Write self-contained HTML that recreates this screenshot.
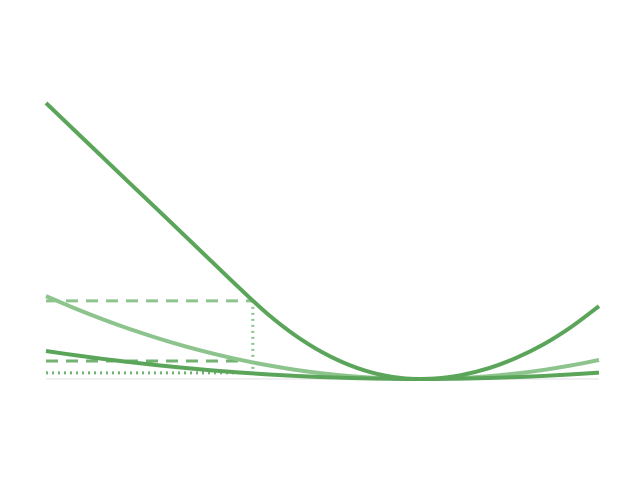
<!DOCTYPE html>
<html><head><meta charset="utf-8"><style>
html,body{margin:0;padding:0;background:#fff;width:640px;height:480px;overflow:hidden}
svg{display:block}
</style></head><body>
<svg id="chart" width="640" height="480" viewBox="0 0 640 480"></svg>
<script>
const xs=[0,0.5,1,1.5,2,2.5,3,3.5,4,4.5,5,5.5,6,6.5,7,7.5,8,8.5,9,9.5,10];
const seriesMain=[1.0,0.904,0.808,0.712,0.617,0.521,0.425,0.329,0.237,0.159,0.0964,0.0494,0.018,0.002,0.0014,0.0138,0.0387,0.0763,0.126,0.189,0.264];
const seriesLight=[0.3006,0.2577,0.2183,0.1820,0.1491,0.1194,0.0931,0.0699,0.0502,0.0336,0.0204,0.0105,0.0038,0.0005,0.0004,0.0036,0.0101,0.0198,0.0329,0.0493,0.0689];
const seriesLow=[0.1014,0.0869,0.0736,0.0614,0.0503,0.0403,0.0314,0.0236,0.0169,0.0113,0.0069,0.0035,0.0013,0.0002,0.0001,0.0012,0.0034,0.0067,0.0111,0.0166,0.0232];
const refX=3.74;
const refLevels=[0.283,0.065,0.022];

const svg=document.getElementById('chart');
const NS='http://www.w3.org/2000/svg';
const X=v=>46+v*55.3;
const Y=v=>379-v*276;
function mk(tag,attrs){const e=document.createElementNS(NS,tag);for(const k in attrs)e.setAttribute(k,attrs[k]);svg.appendChild(e);return e;}
function spline(xs,ys){
  const p=xs.map((x,i)=>[X(x),Y(ys[i])]);
  let d='M'+p[0][0]+','+p[0][1];
  for(let i=0;i<p.length-1;i++){
    const p0=p[i-1]||p[i],p1=p[i],p2=p[i+1],p3=p[i+2]||p[i+1];
    const c1=[p1[0]+(p2[0]-p0[0])/6,p1[1]+(p2[1]-p0[1])/6];
    const c2=[p2[0]-(p3[0]-p1[0])/6,p2[1]-(p3[1]-p1[1])/6];
    d+=`C${c1[0]},${c1[1]} ${c2[0]},${c2[1]} ${p2[0]},${p2[1]}`;
  }
  return d;
}
const base=mk('line',{x1:X(0),x2:X(10),y1:Y(0),y2:Y(0),stroke:'#e0e0e0','stroke-width':1});


const r1=mk('line',{x1:X(0),x2:X(refX),y1:Y(refLevels[0]),y2:Y(refLevels[0]),stroke:'#8dc48d','stroke-width':3,'stroke-dasharray':'12,8'});


const r2=mk('line',{x1:X(0),x2:X(refX)-12,y1:Y(refLevels[1]),y2:Y(refLevels[1]),stroke:'#72b372','stroke-width':3,'stroke-dasharray':'12,8'});


const r3=mk('line',{x1:X(0),x2:X(refX)-10,y1:Y(refLevels[2]),y2:Y(refLevels[2]),stroke:'#72b372','stroke-width':3,'stroke-dasharray':'2,4'});


const rv=mk('line',{x1:X(refX),x2:X(refX),y1:Y(refLevels[0]),y2:Y(0),stroke:'#8dc48d','stroke-width':3,'stroke-dasharray':'2,4'});


const c2=mk('path',{d:spline(xs,seriesLight),fill:'none',stroke:'#8dc48d','stroke-width':4});


const c3=mk('path',{d:spline(xs,seriesLow),fill:'none',stroke:'#5aa55a','stroke-width':4});


const c1=mk('path',{d:spline(xs,seriesMain),fill:'none',stroke:'#5aa55a','stroke-width':4});


</script>
</body></html>
